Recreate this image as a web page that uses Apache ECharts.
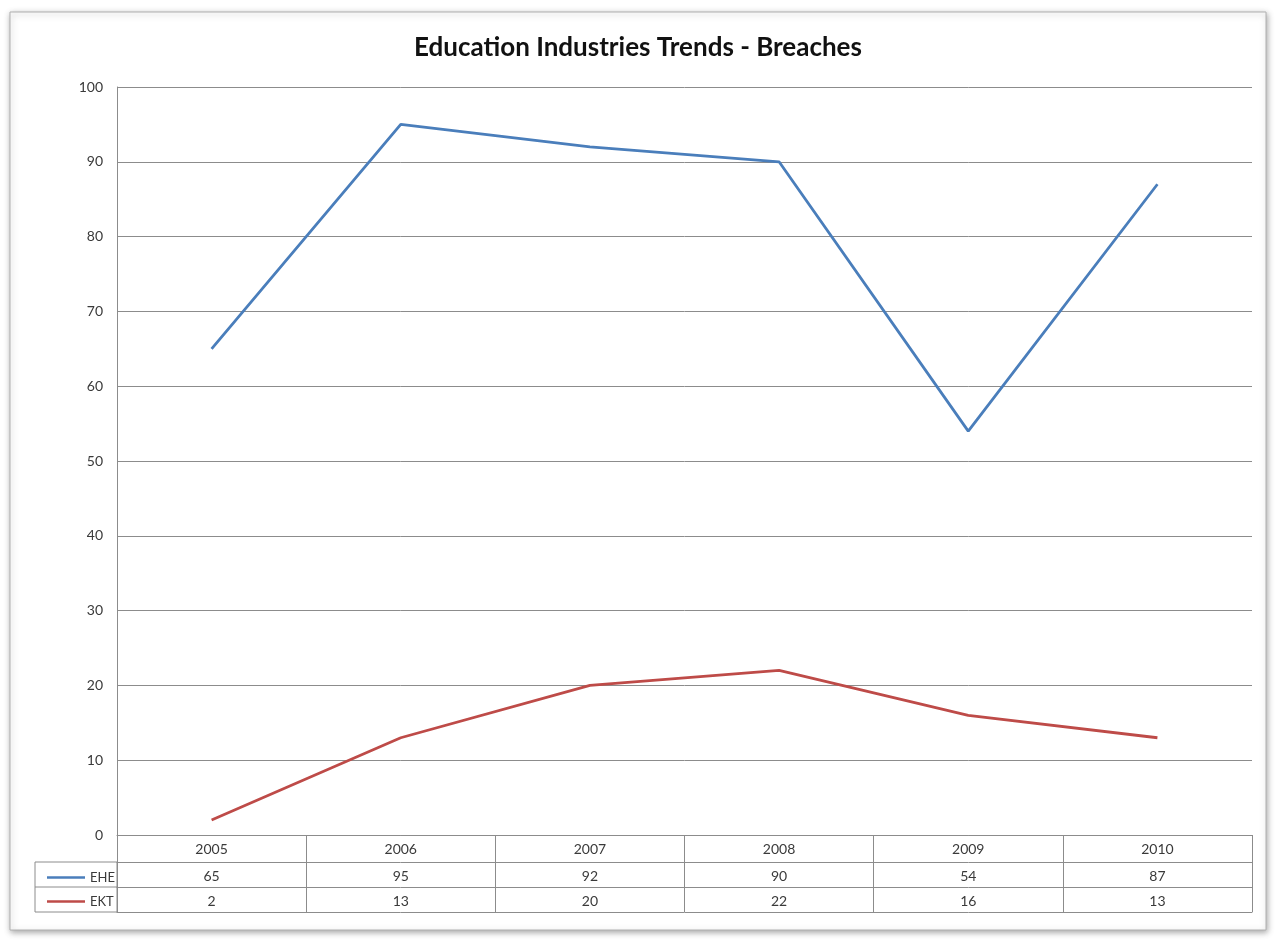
<!DOCTYPE html>
<html>
<head>
<meta charset="utf-8">
<script src="https://cdn.jsdelivr.net/npm/echarts@6/dist/echarts.min.js"></script>
<style>
  html, body { margin: 0; padding: 0; background: #fff; }
  #main { width: 1276px; height: 941px; }
</style>
</head>
<body>
<div id="main"></div>
<script>
// 年份（类目）
var years = ['2005', '2006', '2007', '2008', '2009', '2010'];
// 两条序列的数据
var eheValues = [65, 95, 92, 90, 54, 87];
var ektValues = [2, 13, 20, 22, 16, 13];
var yTicks = { min: 0, max: 100, interval: 10 };

var gridColor = '#8c8c8c';
var textColor = '#3a3a3a';
var font = 'Lato, "Open Sans", sans-serif';

var chart = echarts.init(document.getElementById('main'));

// 数据表的一行，用额外的x轴画出来
function tableRow(offset, labels, tickLen, showLabel) {
    return {
        type: 'category',
        data: years,
        position: 'bottom',
        offset: offset,
        boundaryGap: true,
        axisLine: { show: true, lineStyle: { color: gridColor, width: 1 } },
        axisTick: { show: tickLen > 0, length: tickLen, lineStyle: { color: gridColor } },
        axisLabel: {
            show: showLabel,
            margin: 7,
            color: textColor,
            fontSize: 14,
            fontFamily: font,
            formatter: function (v, i) { return labels ? String(labels[i]) : v; }
        },
        splitLine: { show: false }
    };
}

var option = {
    backgroundColor: '#fff',
    animation: false,
    title: {
        text: 'Education Industries Trends - Breaches',
        left: 'center',
        top: 30,
        textStyle: { fontFamily: font, fontWeight: 'bold', fontSize: 26, color: '#111' }
    },
    legend: {
        orient: 'vertical',
        left: 42,
        top: 866,
        icon: 'rect',
        itemWidth: 38,
        itemHeight: 2.5,
        itemGap: 11,
        textStyle: { fontFamily: font, fontSize: 13, color: textColor },
        data: ['EHE', 'EKT']
    },
    grid: { left: 117, right: 24, top: 87, bottom: 106 },
    xAxis: [
        tableRow(0, null, 27, true),
        tableRow(27, eheValues, 25, true),
        tableRow(52, ektValues, 25, true),
        tableRow(77, null, 0, false)
    ],
    yAxis: {
        type: 'value',
        min: yTicks.min,
        max: yTicks.max,
        interval: yTicks.interval,
        axisLine: { show: true, lineStyle: { color: gridColor } },
        axisTick: { show: false },
        axisLabel: { color: textColor, fontSize: 14, fontFamily: font, margin: 14 },
        splitLine: { show: true, lineStyle: { color: gridColor, width: 1 } }
    },
    series: [
        {
            name: 'EHE', type: 'line', data: eheValues, xAxisIndex: 0,
            symbol: 'none', lineStyle: { color: '#4a7ebb', width: 2.8 }, itemStyle: { color: '#4a7ebb' }
        },
        {
            name: 'EKT', type: 'line', data: ektValues, xAxisIndex: 0,
            symbol: 'none', lineStyle: { color: '#be4b48', width: 2.8 }, itemStyle: { color: '#be4b48' }
        }
    ],
    graphic: [
        // 外框
        {
            type: 'rect', z: -10,
            shape: { x: 10, y: 12, width: 1256, height: 918 },
            style: { fill: '#fff', stroke: '#b0b0b0', lineWidth: 1, shadowBlur: 6, shadowColor: 'rgba(0,0,0,0.35)', shadowOffsetX: 1, shadowOffsetY: 2 }
        },
        // 左侧图例列
        {
            type: 'rect',
            shape: { x: 35, y: 862, width: 82, height: 50 },
            style: { fill: 'none', stroke: gridColor, lineWidth: 1 }
        },
        {
            type: 'line',
            shape: { x1: 35, y1: 887, x2: 117, y2: 887 },
            style: { stroke: gridColor, lineWidth: 1 }
        }
    ]
};

chart.setOption(option);
</script>
</body>
</html>
